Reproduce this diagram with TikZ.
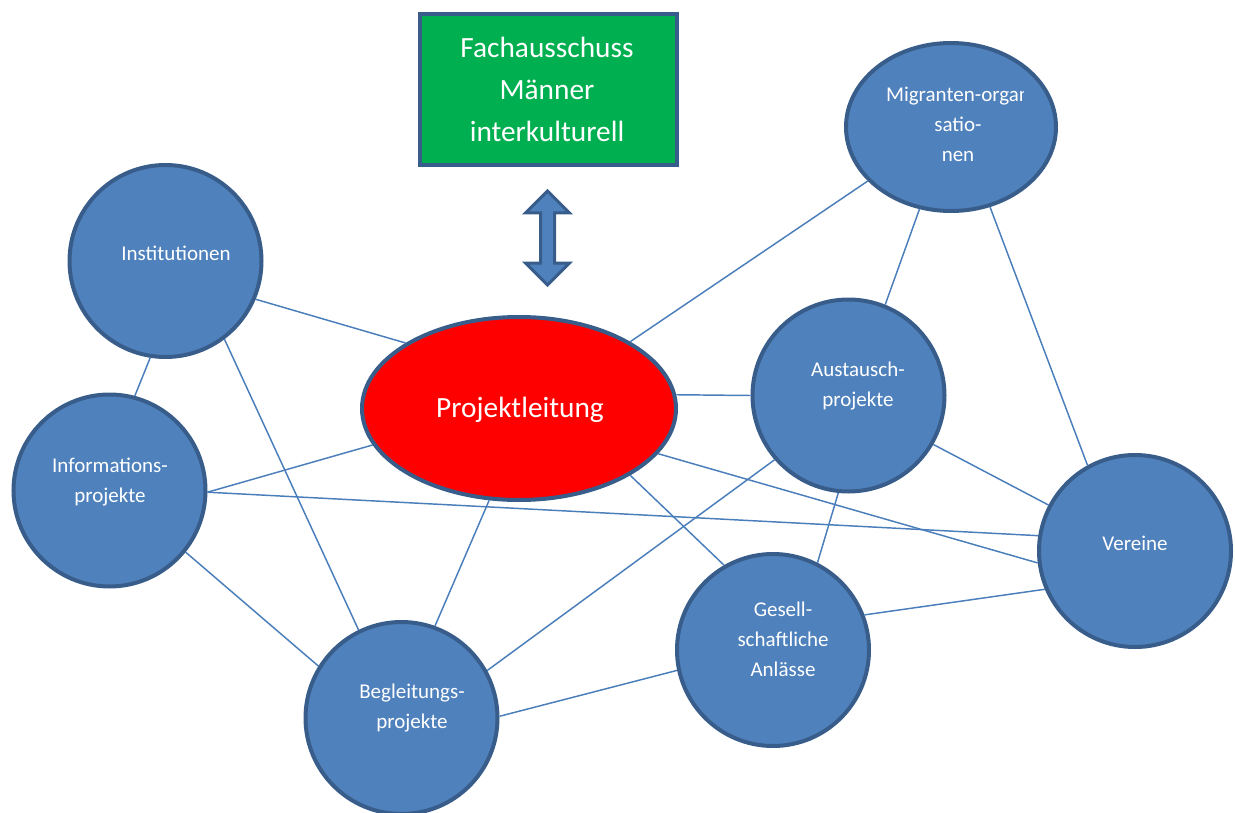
\documentclass[tikz,border=0pt]{standalone}
\usepackage{fontspec}
\setmainfont{Carlito}
\usetikzlibrary{shapes}
\definecolor{mi_blue}{RGB}{79, 129, 189}
\definecolor{mi_edge}{RGB}{56, 93, 138}
\definecolor{mi_line}{RGB}{74, 126, 187}
\definecolor{mi_green}{RGB}{0, 176, 80}
\definecolor{mi_red}{RGB}{255, 0, 0}
\tikzstyle{bn}=[circle,fill=mi_blue,draw=mi_edge,
  line width=3pt,inner sep=0pt,minimum size=144pt]
\tikzstyle{en}=[ellipse,fill=mi_blue,draw=mi_edge,
  line width=3pt,inner sep=0pt]
\tikzstyle{txt}=[text=white,align=center,inner sep=0pt,
  font=\fontsize{15.75}{22.5}\selectfont]
\tikzstyle{bigtxt}=[text=white,align=center,inner sep=0pt,
  font=\fontsize{22}{31.5}\selectfont]
\tikzstyle{ln}=[draw=mi_line,line width=1.1pt]

\begin{document}
\begin{tikzpicture}[x=0.75pt,y=-0.75pt]
    \useasboundingbox (0,0) rectangle (1235,813);
    \node [rectangle,fill=mi_green,draw=mi_edge,line width=3pt,
      minimum width=192.75pt,minimum height=113.25pt] (fach) at (548.5,89.5) {};
    \node [style=bigtxt] (facht) at (547,89) {Fachausschuss\\M\"anner\\interkulturell};
    \filldraw [fill=mi_blue,draw=mi_edge,line width=2.25pt]
      (547.5,191) -- (569.5,213) -- (554.5,213) -- (554.5,263) -- (569.5,263)
      -- (547.5,285) -- (525.5,263) -- (540.5,263) -- (540.5,213) -- (525.5,213) -- cycle;
    \node [style=en,fill=mi_red,minimum width=235.5pt,minimum height=137.25pt] (proj) at (519,408.5) {};
    \node [style=en,minimum width=157.5pt,minimum height=126pt] (migr) at (951,127) {};
    \node [style=bn] (inst) at (165.5,261) {};
    \node [style=bn] (info) at (109.5,490.5) {};
    \node [style=bn] (aust) at (848.5,395.5) {};
    \node [style=bn] (ver) at (1135,551) {};
    \node [style=bn] (ges) at (773,650) {};
    \node [style=bn] (begl) at (401.5,718) {};
    \node [style=bigtxt] (projt) at (520,410) {Projektleitung};
    \begin{scope}
      \clip (850,60) rectangle (1023,200);
      \node [style=txt] (migrt) at (958,124) {Migranten-organ\\satio-\\nen};
    \end{scope}
    \node [style=txt] (instt) at (176,253) {Institutionen};
    \node [style=txt] (infot) at (110,482) {Informations-\\projekte};
    \node [style=txt] (austt) at (858,386) {Austausch-\\projekte};
    \node [style=txt] (vert) at (1135,543) {Vereine};
    \node [style=txt] (gest) at (783,639) {Gesell-\\schaftliche\\Anl\"asse};
    \node [style=txt] (beglt) at (412,708) {Begleitungs-\\projekte};
    \draw [style=ln] (inst.-23) to (proj.150);
    \draw [style=ln] (inst.-99) to (info.75);
    \draw [style=ln] (inst.-53) to (begl.116);
    \draw [style=ln] (info.-1) to (proj.-166);
    \draw [style=ln] (info.-1) to (ver.171);
    \draw [style=ln] (info.-39) to (begl.148);
    \draw [style=ln] (proj.31) to (migr.-147);
    \draw [style=ln] (proj.5) to (aust.180);
    \draw [style=ln] (proj.-18) to (ver.-173);
    \draw [style=ln] (proj.-31) to (ges.120);
    \draw [style=ln] (proj.-108) to (begl.70);
    \draw [style=ln] (migr.-111) to (aust.68);
    \draw [style=ln] (migr.-64) to (ver.119);
    \draw [style=ln] (aust.-30) to (ver.152);
    \draw [style=ln] (aust.-96) to (ges.63);
    \draw [style=ln] (aust.-139) to (begl.29);
    \draw [style=ln] (ges.21) to (ver.-157);
    \draw [style=ln] (begl.1) to (ges.-168);
  \end{tikzpicture}
\end{document}
